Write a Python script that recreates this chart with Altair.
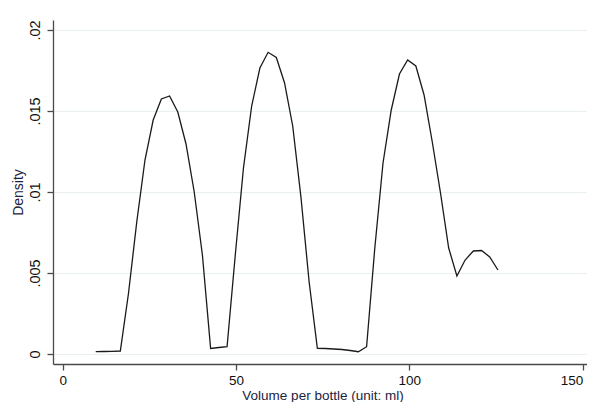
import altair as alt
import pandas as pd

volume = [9.52, 11.89, 14.26, 16.62, 18.99, 21.36, 23.73, 26.10, 28.46, 30.83,
          33.20, 35.57, 37.94, 40.30, 42.67, 45.04, 47.41, 49.78, 52.14, 54.51,
          56.88, 59.25, 61.62, 63.98, 66.35, 68.72, 71.09, 73.46, 75.82, 78.19,
          80.56, 82.93, 85.30, 87.66, 90.03, 92.40, 94.77, 97.14, 99.50, 101.87,
          104.24, 106.61, 108.98, 111.34, 113.71, 116.08, 118.45, 120.82, 123.18, 125.55]

density = [0.000142, 0.000154, 0.000167, 0.000185, 0.003765, 0.008148, 0.011975, 0.014444, 0.015741, 0.015926,
           0.014938, 0.012963, 0.010000, 0.006111, 0.000340, 0.000401, 0.000451, 0.006111, 0.011481, 0.015309,
           0.017654, 0.018623, 0.018302, 0.016747, 0.014074, 0.009691, 0.004444, 0.000352, 0.000340, 0.000309,
           0.000278, 0.000216, 0.000142, 0.000451, 0.006543, 0.011790, 0.015062, 0.017284, 0.018148, 0.017778,
           0.015988, 0.013086, 0.009938, 0.006543, 0.004815, 0.005802, 0.006358, 0.006389, 0.005988, 0.005185]

x_ticks = [0, 50, 100, 150]
y_ticks = [0, 0.005, 0.01, 0.015, 0.02]

df = pd.DataFrame({"volume": volume, "density": density})

FONT = "Liberation Sans"
AXIS_COLOR = "#4a4a4a"

chart = alt.Chart(df).mark_line(color="#1a1a1a", strokeWidth=1.3).encode(
    x=alt.X(
        "volume:Q",
        scale=alt.Scale(domain=[-2.8, 151.24], nice=False, zero=False),
        axis=alt.Axis(
            values=x_ticks,
            title="Volume per bottle (unit: ml)",
            grid=False,
            domainColor=AXIS_COLOR,
            domainWidth=1.3,
            tickColor=AXIS_COLOR,
            tickWidth=1.3,
            tickSize=6,
            labelPadding=3,
            labelFont=FONT,
            labelFontSize=13.5,
            labelColor="#111111",
            labelFlush=6,
            titleFont=FONT,
            titleFontSize=13.5,
            titleFontWeight="normal",
            titleColor="#1c2340",
            titleBaseline="alphabetic",
            titleX=269.5,
            titleY=35,
        ),
    ),
    y=alt.Y(
        "density:Q",
        scale=alt.Scale(domain=[-0.000617, 0.020617], nice=False, zero=False),
        axis=alt.Axis(
            values=y_ticks,
            labelExpr="datum.value == 0 ? '0' : replace(format(datum.value, '.3~f'), '0.', '.')",
            title="Density",
            grid=True,
            gridColor="#e8f0f1",
            gridWidth=1,
            domainColor=AXIS_COLOR,
            domainWidth=1.3,
            tickColor=AXIS_COLOR,
            tickWidth=1.3,
            tickSize=6,
            labelAngle=270,
            labelAlign="center",
            labelBaseline="alphabetic",
            labelPadding=7.5,
            labelFont=FONT,
            labelFontSize=14.5,
            labelColor="#111111",
            titleFont=FONT,
            titleFontSize=14,
            titleFontWeight="normal",
            titleColor="#1c2340",
            titleAngle=270,
            titleAlign="center",
            titleBaseline="alphabetic",
            titleX=-31,
            titleY=172,
        ),
    ),
).properties(
    width=534,
    height=344,
    autosize=alt.AutoSizeParams(type="none"),
    padding={"left": 45, "top": 12, "right": 0, "bottom": 38},
    background="white",
).configure_view(stroke=None)

chart.save("out.html", embed_options={"renderer": "svg", "actions": False})
